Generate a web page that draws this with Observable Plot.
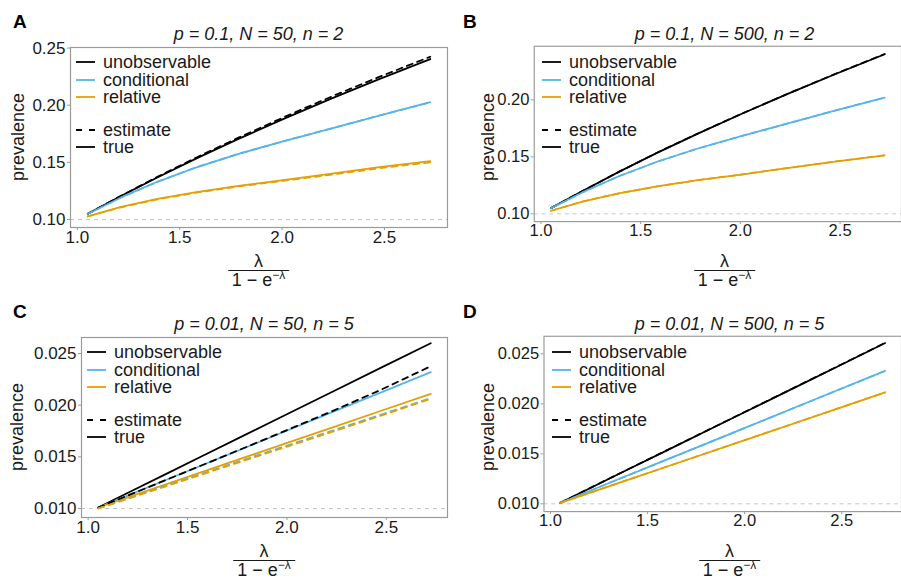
<!DOCTYPE html>
<html>
<head>
<meta charset="utf-8">
<script src="https://cdn.jsdelivr.net/npm/d3@7"></script>
<script src="https://cdn.jsdelivr.net/npm/@observablehq/plot@0.6"></script>
<style>
  body { margin: 0; background: #fff; font-family: "Liberation Sans", Arial, sans-serif; color: #1a1a1a; }
  #root { position: relative; width: 901px; height: 581px; overflow: hidden; background: #fff; }
  .abs { position: absolute; }
  .letter { font-weight: bold; font-size: 19px; line-height: 19px; color: #000; }
  .title { font-style: italic; font-size: 18px; line-height: 18px; white-space: nowrap; transform: translateX(-50%); color: #1a1a1a; }
  .ylab { font-size: 18px; line-height: 18px; white-space: nowrap; transform: translate(-50%, -50%) rotate(-90deg); }
  .legrow { font-size: 18px; line-height: 16px; white-space: nowrap; height: 16px; }
  .legrow .lt { position: absolute; left: 27px; top: 0; display: block; height: 16px; line-height: 16px; overflow: visible; }
  .frac { transform: translateX(-50%); display: flex; flex-direction: column; align-items: center; font-size: 18px; }
  .frac .num { line-height: 18px; height: 18px; }
  .frac .den { border-top: 1.2px solid #1a1a1a; line-height: 19px; height: 19px; padding: 0 4px; white-space: nowrap; }
  .frac sup { font-size: 12px; vertical-align: 0; position: relative; top: -7px; line-height: 0; }
</style>
</head>
<body>
<div id="root"></div>
<script>
// ---------- data ----------
const xLambda = [1.0508, 1.2133, 1.3906, 1.5820, 1.7869, 2.0048, 2.2342, 2.4741, 2.7236];
const xTicks = [1.0, 1.5, 2.0, 2.5];
const seriesNames = ["unobservable", "conditional", "relative"];
const seriesColors = ["#000000", "#56B4E9", "#E69F00"];
const panelLetters = ["A", "B", "C", "D"];
const panelTitles = ["p = 0.1, N = 50, n = 2", "p = 0.1, N = 500, n = 2", "p = 0.01, N = 50, n = 5", "p = 0.01, N = 500, n = 5"];
const refPrevalence = [0.1, 0.1, 0.01, 0.01];
const yTicksA = [0.10, 0.15, 0.20, 0.25];
const yTicksB = [0.10, 0.15, 0.20];
const yTicksCD = [0.010, 0.015, 0.020, 0.025];

// Panel A: p = 0.1, N = 50, n = 2
const aUnobsTrue = [0.105, 0.1205, 0.1368, 0.1535, 0.1705, 0.1878, 0.2053, 0.2229, 0.2404];
const aUnobsEst  = [0.105, 0.1207, 0.1373, 0.1543, 0.1716, 0.1892, 0.2070, 0.2248, 0.2424];
const aCondTrue  = [0.105, 0.1193, 0.1330, 0.1457, 0.1574, 0.1684, 0.1794, 0.1909, 0.2026];
const aCondEst   = [0.105, 0.1193, 0.1330, 0.1457, 0.1574, 0.1684, 0.1794, 0.1909, 0.2026];
const aRelTrue   = [0.1027, 0.1110, 0.1180, 0.1240, 0.1295, 0.1345, 0.1400, 0.1458, 0.1511];
const aRelEst    = [0.1027, 0.1107, 0.1176, 0.1235, 0.1289, 0.1338, 0.1391, 0.1448, 0.1500];

// Panel B: p = 0.1, N = 500, n = 2
const bUnobsTrue = [0.105, 0.1205, 0.1368, 0.1535, 0.1704, 0.1876, 0.2050, 0.2225, 0.2400];
const bUnobsEst  = [0.105, 0.1205, 0.1368, 0.1536, 0.1705, 0.1877, 0.2051, 0.2226, 0.2402];
const bCondTrue  = [0.105, 0.1193, 0.1330, 0.1457, 0.1573, 0.1682, 0.1791, 0.1905, 0.2020];
const bCondEst   = [0.105, 0.1193, 0.1330, 0.1457, 0.1573, 0.1682, 0.1791, 0.1905, 0.2020];
const bRelTrue   = [0.1027, 0.1110, 0.1180, 0.1240, 0.1295, 0.1345, 0.1401, 0.1459, 0.1513];
const bRelEst    = [0.1027, 0.1110, 0.1180, 0.1240, 0.1295, 0.1345, 0.1401, 0.1459, 0.1513];

// Panel C: p = 0.01, N = 50, n = 5
const cUnobsTrue = [0.0101, 0.01164, 0.01333, 0.01515, 0.01710, 0.01917, 0.02135, 0.02363, 0.02600];
const cUnobsEst  = [0.0101, 0.01136, 0.01275, 0.01426, 0.01588, 0.01762, 0.01947, 0.02150, 0.02377];
const cCondTrue  = [0.0101, 0.01137, 0.01276, 0.01426, 0.01586, 0.01757, 0.01937, 0.02124, 0.02320];
const cCondEst   = [0.0100, 0.01106, 0.01220, 0.01343, 0.01474, 0.01612, 0.01757, 0.01909, 0.02068];
const cRelTrue   = [0.0101, 0.01117, 0.01233, 0.01359, 0.01494, 0.01637, 0.01788, 0.01946, 0.02110];
const cRelEst    = [0.0100, 0.01103, 0.01215, 0.01336, 0.01465, 0.01602, 0.01746, 0.01899, 0.02062];

// Panel D: p = 0.01, N = 500, n = 5
const dUnobsTrue = [0.0101, 0.01165, 0.01335, 0.01517, 0.01713, 0.01921, 0.02140, 0.02369, 0.02608];
const dUnobsEst  = [0.0101, 0.01167, 0.01337, 0.01519, 0.01715, 0.01923, 0.02142, 0.02371, 0.02610];
const dCondTrue  = [0.0101, 0.01138, 0.01278, 0.01429, 0.01590, 0.01762, 0.01943, 0.02133, 0.02330];
const dCondEst   = [0.0101, 0.01138, 0.01278, 0.01429, 0.01590, 0.01762, 0.01943, 0.02133, 0.02330];
const dRelTrue   = [0.0101, 0.01117, 0.01234, 0.01361, 0.01496, 0.01640, 0.01791, 0.01949, 0.02114];
const dRelEst    = [0.0101, 0.01117, 0.01234, 0.01361, 0.01496, 0.01640, 0.01791, 0.01949, 0.02114];

// ---------- layout ----------
const xDomain = [0.9666, 2.8078];
const layouts = [
  {left: 0,   top: 0,   width: 450, height: 290, fl: 70, fr: 447, ft: 47, fb: 227, yDomain: [0.093, 0.2505],  yTicks: yTicksA,  fmt: ".2f", ylabX: 18},
  {left: 450, top: 0,   width: 463, height: 290, fl: 86, fr: 463, ft: 47, fb: 227, yDomain: [0.0932, 0.247],  yTicks: yTicksB,  fmt: ".2f", ylabX: 488},
  {left: 0,   top: 290, width: 450, height: 291, fl: 81, fr: 447, ft: 47, fb: 227, yDomain: [0.00913, 0.02655], yTicks: yTicksCD, fmt: ".3f", ylabX: 17},
  {left: 450, top: 290, width: 463, height: 291, fl: 96, fr: 463, ft: 47, fb: 227, yDomain: [0.00922, 0.02676], yTicks: yTicksCD, fmt: ".3f", ylabX: 488}
];
const panelTrue = [
  [aUnobsTrue, aCondTrue, aRelTrue],
  [bUnobsTrue, bCondTrue, bRelTrue],
  [cUnobsTrue, cCondTrue, cRelTrue],
  [dUnobsTrue, dCondTrue, dRelTrue]
];
const panelEst = [
  [aUnobsEst, aCondEst, aRelEst],
  [bUnobsEst, bCondEst, bRelEst],
  [cUnobsEst, cCondEst, cRelEst],
  [dUnobsEst, dCondEst, dRelEst]
];

function toRows(arrs) {
  const rows = [];
  arrs.forEach((arr, i) => arr.forEach((y, j) => rows.push({x: xLambda[j], y, series: seriesNames[i]})));
  return rows;
}

const root = document.getElementById("root");
function addDiv(cls, left, top, html) {
  const d = document.createElement("div");
  d.className = "abs " + cls;
  d.style.left = left + "px";
  d.style.top = top + "px";
  d.innerHTML = html;
  root.appendChild(d);
  return d;
}

layouts.forEach((L, k) => {
  const chart = Plot.plot({
    width: L.width,
    height: L.height,
    marginLeft: L.fl,
    marginRight: L.width - L.fr,
    marginTop: L.ft,
    marginBottom: L.height - L.fb,
    style: {fontFamily: "Liberation Sans, Arial, sans-serif", fontSize: "17px", color: "#1a1a1a", background: "transparent", overflow: "visible"},
    x: {domain: xDomain},
    y: {domain: L.yDomain},
    color: {domain: seriesNames, range: seriesColors},
    marks: [
      Plot.ruleY([refPrevalence[k]], {stroke: "#c4c4c4", strokeWidth: 1, strokeDasharray: "4,4"}),
      Plot.line(toRows(panelTrue[k]), {x: "x", y: "y", stroke: "series", strokeWidth: 1.8}),
      Plot.line(toRows(panelEst[k]), {x: "x", y: "y", stroke: "series", strokeWidth: 1.8, strokeDasharray: "6,5"}),
      Plot.frame({stroke: "#9a9a9a", strokeWidth: 1.2}),
      Plot.axisX({ticks: xTicks, tickFormat: d3.format(".1f"), tickSize: 3, tickPadding: 0, stroke: "#9a9a9a", fill: "#1a1a1a", fontSize: 17, label: null}),
      Plot.axisY({ticks: L.yTicks, tickFormat: d3.format(L.fmt), tickSize: 3, tickPadding: 2, stroke: "#9a9a9a", fill: "#1a1a1a", fontSize: 17, label: null})
    ]
  });
  const holder = document.createElement("div");
  holder.className = "abs";
  holder.style.left = L.left + "px";
  holder.style.top = L.top + "px";
  holder.appendChild(chart);
  root.appendChild(holder);

  const fcx = L.left + (L.fl + L.fr) / 2;
  addDiv("letter", L.left + 13, L.top + 12, panelLetters[k]);
  addDiv("title", fcx, L.top + 24.5, panelTitles[k]);
  addDiv("ylab", L.ylabX, L.top + (L.ft + L.fb) / 2, "prevalence");
  addDiv("frac", fcx, L.top + 252, '<div class="num">λ</div><div class="den">1 − e<sup>−λ</sup></div>');
  const lx = L.left + L.fl + 6;
  const legendItems = [
    {label: seriesNames[0], color: seriesColors[0], dash: null, dy: 15},
    {label: seriesNames[1], color: seriesColors[1], dash: null, dy: 32.5},
    {label: seriesNames[2], color: seriesColors[2], dash: null, dy: 50},
    {label: "estimate", color: "#000", dash: "6,7", dy: 83},
    {label: "true", color: "#000", dash: null, dy: 100}
  ];
  legendItems.forEach(it => {
    const y = L.top + L.ft + it.dy - 8;
    addDiv("legrow", lx, y,
      `<svg width="20" height="16" style="vertical-align:top;display:block"><line x1="0" x2="19" y1="8" y2="8" stroke="${it.color}" stroke-width="1.8" ${it.dash ? `stroke-dasharray="${it.dash}"` : ""}/></svg><div class="lt">${it.label}</div>`);
  });
});
</script>
</body>
</html>
